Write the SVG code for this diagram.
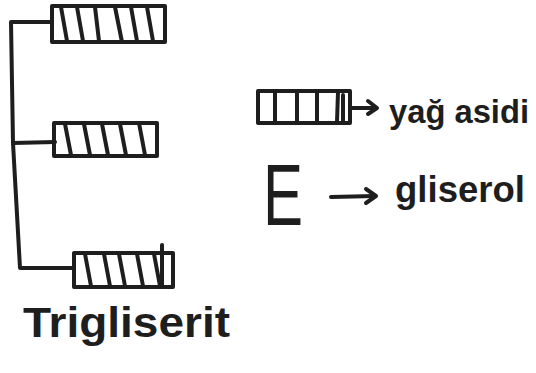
<svg xmlns="http://www.w3.org/2000/svg" width="536" height="373" viewBox="0 0 536 373">
  <style>
    .ink { fill: none; stroke: #1e1e1e; stroke-width: 4; stroke-linecap: round; stroke-linejoin: round; }
    .stripe { fill: none; stroke: #1e1e1e; stroke-width: 4; stroke-linecap: round; }
    .hand { font-family: "Liberation Sans", Arial, sans-serif; font-weight: bold; fill: #1e1e1e; }
  </style>
  <rect x="0" y="0" width="536" height="373" fill="#ffffff"/>

  <g id="connectors">
    <polyline class="ink" points="52,22 11,22 13,143 20,268 74,268"/>
    <line class="ink" x1="13" y1="143" x2="55" y2="142"/>
  </g>

  <g id="fatty-acid-1">
    <rect class="ink" x="52" y="6" width="113" height="36"/>
    <line class="stripe" x1="61" y1="7" x2="67" y2="41"/>
    <line class="stripe" x1="77" y1="7" x2="83" y2="41"/>
    <line class="stripe" x1="95" y1="7" x2="99" y2="41"/>
    <line class="stripe" x1="115" y1="7" x2="122" y2="42"/>
    <line class="stripe" x1="131" y1="7" x2="137" y2="41"/>
    <line class="stripe" x1="147" y1="7" x2="153" y2="41"/>
  </g>

  <g id="fatty-acid-2">
    <rect class="ink" x="54" y="123" width="103" height="33"/>
    <line class="stripe" x1="65" y1="124" x2="71" y2="155"/>
    <line class="stripe" x1="84" y1="124" x2="90" y2="155"/>
    <line class="stripe" x1="102" y1="124" x2="108" y2="155"/>
    <line class="stripe" x1="120" y1="124" x2="126" y2="155"/>
    <line class="stripe" x1="139" y1="123" x2="145" y2="155"/>
  </g>

  <g id="fatty-acid-3">
    <rect class="ink" x="74" y="253" width="99" height="34"/>
    <line class="stripe" x1="85" y1="254" x2="91" y2="286"/>
    <line class="stripe" x1="104" y1="254" x2="110" y2="286"/>
    <line class="stripe" x1="119" y1="254" x2="125" y2="286"/>
    <line class="stripe" x1="137" y1="254" x2="143" y2="286"/>
    <line class="stripe" x1="154" y1="254" x2="160" y2="286"/>
    <line class="stripe" x1="162" y1="245" x2="162" y2="286"/>
  </g>

  <g id="label-trigliserit">
    <text class="hand" x="23" y="337" font-size="43" textLength="207" lengthAdjust="spacingAndGlyphs">Trigliserit</text>
  </g>

  <g id="legend-fatty-acid">
    <rect class="ink" x="258" y="91" width="92" height="32"/>
    <line class="stripe" x1="275" y1="92" x2="275" y2="122"/>
    <line class="stripe" x1="297" y1="92" x2="297" y2="122"/>
    <line class="stripe" x1="317" y1="92" x2="317" y2="122"/>
    <line class="stripe" x1="338" y1="92" x2="337" y2="122"/>
    <line class="ink" x1="343" y1="95" x2="343" y2="122"/>
    <line class="ink" x1="350" y1="108" x2="376" y2="108"/>
    <polyline class="ink" points="368,101 377,108 368,114"/>
    <text class="hand" x="389" y="123" font-size="34" textLength="140" lengthAdjust="spacingAndGlyphs">yağ asidi</text>
  </g>

  <g id="legend-glycerol">
    <text x="263" y="225" font-family="Liberation Sans, Arial, sans-serif" font-size="88" fill="#1e1e1e" textLength="40" lengthAdjust="spacingAndGlyphs">E</text>
    <line class="ink" x1="331" y1="197" x2="375" y2="196"/>
    <polyline class="ink" points="366,189 376,196 366,203"/>
    <text class="hand" x="395" y="202" font-size="37" textLength="130" lengthAdjust="spacingAndGlyphs">gliserol</text>
  </g>
</svg>
